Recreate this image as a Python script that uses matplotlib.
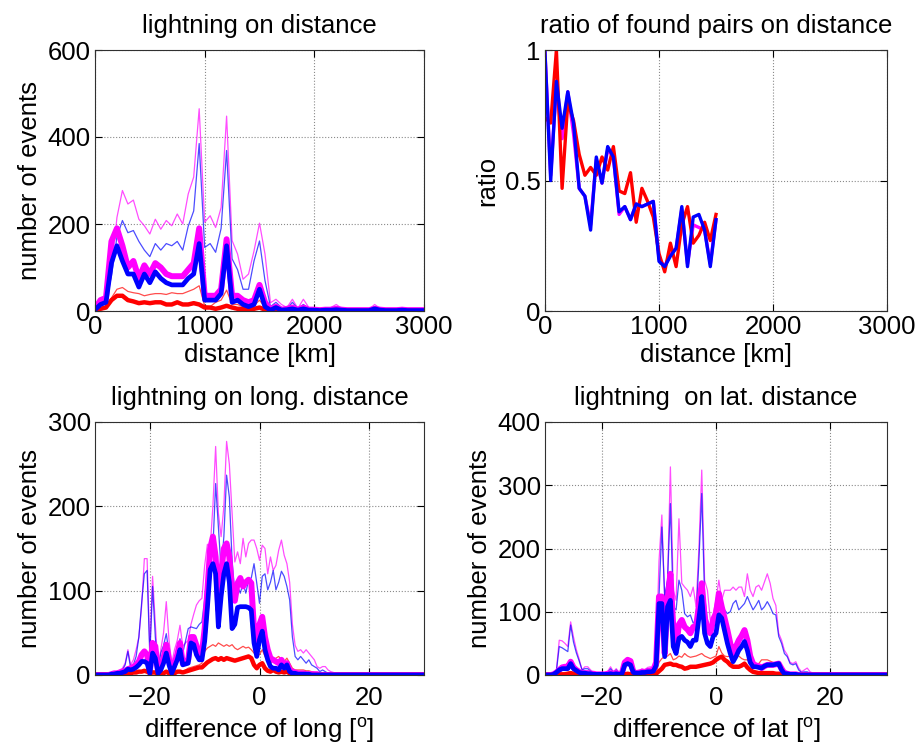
import numpy as np
import matplotlib
matplotlib.use('Agg')
import matplotlib.pyplot as plt

plt.rcParams['font.family'] = ['Liberation Sans', 'DejaVu Sans']
plt.rcParams['mathtext.fontset'] = 'custom'
plt.rcParams['mathtext.rm'] = 'Liberation Sans'
plt.rcParams['mathtext.it'] = 'Liberation Sans:italic'
FS = 18.5

# ---------------- data: lightning on distance (50 km bins, 0..3000 km) -------------
dist_km = np.arange(0, 3001, 50)
dist_thin_magenta = [8, 30, 35, 90, 215, 277, 246, 255, 211, 196,
                     177, 211, 188, 208, 196, 223, 200, 269, 308, 465,
                     204, 219, 192, 238, 448, 162, 131, 73, 85, 138,
                     202, 131, 19, 27, 15, 8, 27, 6, 27, 8,
                     8, 4, 6, 8, 15, 6, 4, 4, 4, 4,
                     4, 15, 6, 4, 4, 4, 8, 4, 4, 4,
                     4]
dist_thin_blue = [5, 20, 25, 80, 170, 208, 180, 185, 160, 140,
                  125, 155, 140, 155, 150, 160, 140, 195, 230, 385,
                  146, 155, 135, 190, 369, 120, 95, 50, 50, 115,
                  161, 70, 10, 20, 8, 5, 20, 5, 15, 5,
                  5, 3, 5, 5, 10, 5, 3, 3, 3, 3,
                  3, 10, 5, 3, 3, 3, 5, 3, 3, 3,
                  3]
dist_thin_red = [2, 8, 10, 30, 50, 54, 45, 42, 40, 35,
                 38, 40, 40, 38, 42, 40, 40, 45, 50, 58,
                 12, 10, 20, 25, 48, 15, 15, 10, 10, 12,
                 25, 8, 2, 3, 1, 1, 2, 1, 2, 1,
                 1, 0, 1, 1, 1, 1, 0, 0, 0, 0,
                 0, 1, 1, 0, 0, 0, 1, 0, 0, 0,
                 0]
dist_magenta = [5, 25, 30, 160, 190, 150, 100, 115, 75, 105,
                85, 110, 100, 85, 80, 80, 80, 95, 110, 190,
                35, 35, 35, 50, 165, 35, 35, 25, 20, 25,
                60, 20, 3, 10, 3, 5, 8, 3, 8, 3,
                3, 2, 3, 3, 5, 3, 2, 2, 2, 2,
                2, 5, 3, 2, 2, 2, 3, 2, 2, 2,
                2]
dist_blue = [3, 15, 20, 110, 150, 115, 85, 85, 55, 85,
             65, 90, 75, 65, 60, 60, 60, 75, 85, 155,
             25, 25, 25, 40, 150, 20, 25, 15, 10, 15,
             50, 10, 2, 8, 2, 3, 5, 2, 5, 2,
             2, 1, 2, 2, 3, 2, 1, 1, 1, 1,
             1, 5, 2, 1, 1, 1, 2, 1, 1, 1,
             1]
dist_red = [1, 5, 8, 25, 35, 35, 25, 22, 18, 20,
            18, 20, 20, 15, 15, 20, 15, 15, 18, 15,
            8, 8, 5, 8, 12, 8, 5, 5, 5, 5,
            8, 3, 1, 2, 1, 1, 1, 1, 1, 1,
            1, 0, 1, 0, 1, 0, 0, 0, 0, 0,
            0, 1, 0, 0, 0, 0, 0, 0, 0, 0,
            0]

# ---------------- data: ratio of found pairs (0..1500 km) ----------------
ratio_km = np.arange(0, 1501, 50)
ratio_magenta = [0.99, 0.52, 0.87, 0.66, 0.84, 0.68, 0.47, 0.44, 0.33, 0.58,
                 0.49, 0.62, 0.59, 0.37, 0.40, 0.35, 0.41, 0.40, 0.41, 0.42,
                 0.20, 0.17, 0.22, 0.24, 0.39, 0.18, 0.33, 0.32, 0.31, 0.18,
                 0.35]
ratio_red = [0.74, 0.72, 1.00, 0.47, 0.80, 0.73, 0.60, 0.52, 0.55, 0.52,
             0.59, 0.54, 0.63, 0.46, 0.45, 0.53, 0.34, 0.47, 0.42, 0.36,
             0.22, 0.15, 0.26, 0.17, 0.33, 0.40, 0.26, 0.29, 0.34, 0.27,
             0.37]
ratio_blue = [0.99, 0.50, 0.88, 0.70, 0.84, 0.72, 0.47, 0.44, 0.31, 0.59,
              0.49, 0.63, 0.59, 0.38, 0.40, 0.35, 0.41, 0.40, 0.41, 0.42,
              0.19, 0.17, 0.21, 0.24, 0.40, 0.17, 0.36, 0.37, 0.31, 0.17,
              0.35]

# ---------------- data: longitude difference (0.5 deg bins, -30..30) ----------------
deg = np.arange(-30, 30.01, 0.5)
long_thin_magenta = [0, 0, 0, 0, 0, 1, 2, 3, 4, 6,
                     8, 14, 30, 12, 18, 30, 45, 81, 138, 138,
                     30, 117, 61, 8, 30, 50, 87, 41, 14, 30,
                     41, 59, 34, 38, 41, 60, 72, 83, 88, 91,
                     130, 155, 150, 200, 271, 192, 164, 200, 277, 250,
                     192, 134, 146, 132, 162, 140, 156, 160, 160, 150,
                     136, 154, 150, 120, 140, 124, 130, 148, 160, 142,
                     132, 110, 60, 35, 28, 30, 26, 30, 26, 22,
                     18, 10, 8, 10, 10, 6, 4, 3, 2, 1,
                     0, 0, 0, 0, 0, 0, 0, 0, 0, 0,
                     0, 0, 0, 0, 0, 0, 0, 0, 0, 0,
                     0, 0, 0, 0, 0, 0, 0, 0, 0, 0,
                     0]
long_thin_blue = [0, 0, 0, 0, 0, 0, 1, 2, 3, 4,
                  6, 12, 28, 8, 12, 22, 45, 85, 120, 124,
                  22, 105, 45, 6, 26, 35, 49, 26, 8, 20,
                  28, 43, 26, 40, 55, 57, 56, 55, 60, 63,
                  90, 125, 136, 150, 227, 176, 124, 164, 237, 211,
                  136, 97, 105, 97, 109, 97, 113, 115, 132, 109,
                  85, 117, 120, 101, 110, 124, 101, 110, 123, 117,
                  105, 89, 45, 22, 18, 22, 18, 14, 18, 12,
                  10, 8, 4, 6, 4, 2, 1, 1, 0, 0,
                  0, 0, 0, 0, 0, 0, 0, 0, 0, 0,
                  0, 0, 0, 0, 0, 0, 0, 0, 0, 0,
                  0, 0, 0, 0, 0, 0, 0, 0, 0, 0,
                  0]
long_thin_red = [0, 0, 0, 0, 0, 0, 0, 0, 0, 1,
                 1, 1, 2, 2, 2, 3, 3, 3, 3, 3,
                 2, 5, 3, 1, 2, 3, 5, 3, 1, 3,
                 5, 5, 4, 6, 8, 9, 10, 11, 12, 14,
                 28, 32, 34, 36, 34, 38, 36, 34, 36, 34,
                 36, 32, 30, 32, 34, 32, 33, 30, 26, 24,
                 24, 30, 22, 16, 14, 18, 20, 22, 18, 16,
                 20, 14, 8, 6, 6, 6, 6, 5, 5, 4,
                 3, 2, 2, 1, 1, 1, 0, 0, 0, 0,
                 0, 0, 0, 0, 0, 0, 0, 0, 0, 0,
                 0, 0, 0, 0, 0, 0, 0, 0, 0, 0,
                 0, 0, 0, 0, 0, 0, 0, 0, 0, 0,
                 0]
long_magenta = [0, 0, 0, 0, 0, 0, 1, 2, 2, 3,
                4, 5, 7, 8, 10, 12, 16, 24, 28, 24,
                4, 38, 34, 4, 10, 20, 36, 18, 4, 14,
                24, 38, 14, 16, 18, 45, 45, 35, 22, 26,
                55, 100, 150, 164, 140, 77, 121, 150, 156, 140,
                100, 88, 109, 115, 105, 110, 113, 109, 53, 34,
                60, 69, 45, 30, 20, 18, 16, 14, 18, 12,
                14, 6, 4, 3, 2, 2, 2, 1, 1, 1,
                1, 1, 0, 0, 0, 0, 0, 0, 0, 0,
                0, 0, 0, 0, 0, 0, 0, 0, 0, 0,
                0, 0, 0, 0, 0, 0, 0, 0, 0, 0,
                0, 0, 0, 0, 0, 0, 0, 0, 0, 0,
                0]
long_blue = [0, 0, 0, 0, 0, 0, 1, 1, 2, 2,
             3, 4, 7, 6, 7, 9, 12, 16, 16, 14,
             2, 26, 20, 2, 6, 14, 26, 12, 2, 10,
             18, 30, 12, 13, 14, 38, 36, 24, 18, 18,
             40, 80, 125, 132, 120, 57, 93, 120, 132, 110,
             55, 60, 80, 81, 81, 81, 80, 77, 38, 22,
             42, 52, 30, 18, 10, 8, 8, 6, 12, 8,
             12, 4, 2, 2, 1, 1, 1, 1, 1, 0,
             0, 0, 0, 0, 0, 0, 0, 0, 0, 0,
             0, 0, 0, 0, 0, 0, 0, 0, 0, 0,
             0, 0, 0, 0, 0, 0, 0, 0, 0, 0,
             0, 0, 0, 0, 0, 0, 0, 0, 0, 0,
             0]
long_red = [0, 0, 0, 0, 0, 0, 0, 1, 1, 1,
            1, 1, 2, 2, 3, 3, 4, 4, 5, 4,
            2, 3, 3, 1, 2, 2, 4, 2, 1, 2,
            4, 4, 3, 4, 5, 6, 7, 8, 9, 9,
            12, 15, 17, 19, 20, 18, 20, 18, 20, 19,
            18, 17, 18, 19, 20, 21, 22, 20, 12, 8,
            12, 14, 8, 5, 4, 6, 4, 3, 4, 3,
            4, 2, 2, 1, 1, 1, 1, 1, 0, 0,
            0, 0, 0, 0, 0, 0, 0, 0, 0, 0,
            0, 0, 0, 0, 0, 0, 0, 0, 0, 0,
            0, 0, 0, 0, 0, 0, 0, 0, 0, 0,
            0, 0, 0, 0, 0, 0, 0, 0, 0, 0,
            0]

# ---------------- data: latitude difference (0.5 deg bins, -30..30) ----------------
lat_thin_magenta = [0, 0, 0, 1, 8, 55, 54, 50, 45, 84,
                    60, 40, 25, 8, 13, 13, 8, 4, 3, 2,
                    2, 3, 6, 13, 5, 10, 4, 8, 24, 26,
                    22, 8, 5, 6, 10, 8, 12, 13, 10, 30,
                    180, 253, 118, 150, 329, 134, 118, 247, 145, 139,
                    134, 124, 139, 108, 200, 324, 150, 134, 87, 97,
                    118, 150, 118, 134, 134, 134, 139, 134, 139, 139,
                    124, 160, 134, 124, 139, 142, 134, 147, 160, 145,
                    121, 110, 66, 55, 39, 32, 20, 18, 21, 11,
                    5, 8, 11, 5, 3, 0, 0, 0, 0, 0,
                    0, 0, 0, 0, 0, 0, 0, 0, 0, 0,
                    0, 0, 0, 0, 0, 0, 0, 0, 0, 0,
                    0]
lat_thin_blue = [0, 0, 0, 1, 6, 45, 43, 40, 37, 79,
                 52, 35, 22, 8, 10, 10, 6, 3, 2, 2,
                 2, 2, 4, 10, 4, 8, 3, 6, 22, 24,
                 20, 6, 4, 5, 8, 6, 10, 10, 8, 25,
                 124, 234, 124, 150, 271, 108, 103, 150, 134, 97,
                 92, 95, 82, 87, 180, 287, 124, 87, 71, 76,
                 87, 108, 92, 103, 97, 100, 113, 118, 103, 108,
                 113, 124, 113, 103, 110, 118, 103, 108, 116, 108,
                 97, 95, 61, 50, 34, 29, 18, 16, 18, 8,
                 4, 5, 5, 3, 1, 0, 0, 0, 0, 0,
                 0, 0, 0, 0, 0, 0, 0, 0, 0, 0,
                 0, 0, 0, 0, 0, 0, 0, 0, 0, 0,
                 0]
lat_thin_red = [0, 0, 0, 0, 1, 3, 3, 4, 4, 5,
                3, 3, 2, 1, 1, 1, 1, 0, 0, 0,
                0, 0, 0, 1, 0, 1, 0, 1, 2, 3,
                2, 1, 1, 1, 1, 1, 1, 1, 2, 3,
                20, 26, 29, 30, 34, 24, 26, 30, 28, 34,
                30, 28, 29, 30, 32, 34, 30, 28, 26, 28,
                30, 45, 35, 30, 29, 30, 32, 34, 30, 26,
                24, 24, 18, 13, 12, 18, 24, 24, 24, 22,
                20, 18, 14, 10, 5, 3, 2, 1, 1, 0,
                0, 0, 0, 0, 0, 0, 0, 0, 0, 0,
                0, 0, 0, 0, 0, 0, 0, 0, 0, 0,
                0, 0, 0, 0, 0, 0, 0, 0, 0, 0,
                0]
lat_magenta = [0, 0, 0, 1, 4, 8, 12, 13, 13, 21,
               12, 8, 5, 3, 3, 3, 2, 2, 1, 1,
               1, 1, 2, 3, 2, 3, 1, 3, 20, 24,
               22, 5, 3, 4, 5, 5, 6, 7, 8, 20,
               124, 124, 34, 118, 160, 76, 45, 80, 87, 76,
               72, 66, 76, 76, 110, 145, 92, 71, 66, 87,
               97, 129, 108, 90, 71, 50, 34, 45, 55, 62,
               71, 55, 30, 18, 15, 14, 11, 14, 16, 16,
               16, 17, 18, 10, 3, 2, 1, 1, 1, 0,
               0, 0, 0, 0, 0, 0, 0, 0, 0, 0,
               0, 0, 0, 0, 0, 0, 0, 0, 0, 0,
               0, 0, 0, 0, 0, 0, 0, 0, 0, 0,
               0]
lat_blue = [0, 0, 0, 1, 4, 8, 10, 10, 10, 18,
            10, 7, 4, 3, 3, 2, 2, 1, 1, 1,
            1, 1, 1, 2, 1, 2, 1, 2, 16, 18,
            16, 4, 3, 3, 4, 4, 5, 5, 6, 15,
            113, 113, 29, 108, 118, 45, 34, 58, 61, 55,
            52, 45, 55, 55, 90, 124, 66, 50, 45, 61,
            66, 95, 90, 70, 50, 34, 21, 29, 39, 45,
            53, 39, 20, 13, 13, 12, 11, 14, 16, 16,
            16, 17, 18, 8, 2, 2, 1, 1, 1, 0,
            0, 0, 0, 0, 0, 0, 0, 0, 0, 0,
            0, 0, 0, 0, 0, 0, 0, 0, 0, 0,
            0, 0, 0, 0, 0, 0, 0, 0, 0, 0,
            0]
lat_red = [0, 0, 0, 0, 0, 1, 1, 1, 2, 3,
           2, 1, 1, 0, 0, 0, 0, 0, 0, 0,
           0, 0, 0, 0, 0, 0, 0, 0, 1, 2,
           1, 0, 0, 0, 0, 0, 0, 1, 1, 2,
           6, 10, 16, 17, 18, 16, 16, 14, 13, 10,
           11, 13, 13, 13, 14, 15, 16, 17, 18, 20,
           24, 27, 29, 24, 21, 16, 13, 13, 13, 15,
           18, 12, 8, 5, 4, 3, 3, 3, 3, 3,
           3, 2, 2, 1, 1, 0, 0, 0, 0, 0,
           0, 0, 0, 0, 0, 0, 0, 0, 0, 0,
           0, 0, 0, 0, 0, 0, 0, 0, 0, 0,
           0, 0, 0, 0, 0, 0, 0, 0, 0, 0,
           0]

# ---------------- figure ----------------
W, H = 919, 751
fig = plt.figure(figsize=(W / 100, H / 100), dpi=100)


def axes_px(x0, y0, x1, y1):
    return fig.add_axes([x0 / W, 1 - y1 / H, (x1 - x0) / W, (y1 - y0) / H])


def style(ax, xpad=3):
    ax.grid(True, linestyle=':', color='#8a8a8a', linewidth=0.8)
    ax.tick_params(direction='in', top=True, right=True, length=5, width=0.8,
                   labelsize=FS, pad=3, colors='black')
    ax.tick_params(axis='x', pad=xpad)
    for sp in ax.spines.values():
        sp.set_linewidth(0.8)
        sp.set_color('#303030')


THIN = dict(lw=0.9, alpha=0.7)


def histo(ax, x, tm, tb, tr, km, kr, kb):
    ax.plot(x, tm, color='#ff00ff', **THIN)
    ax.plot(x, tb, color='#0000ff', **THIN)
    ax.plot(x, tr, color='#ff0000', **THIN)
    ax.plot(x, km, color='#ff00ff', lw=4.3, solid_joinstyle='round')
    ax.plot(x, kr, color='#ff0000', lw=3.2, solid_joinstyle='round')
    ax.plot(x, kb, color='#0000ff', lw=3.4, solid_joinstyle='round')


ax1 = axes_px(95, 50, 424, 311)
ax2 = axes_px(545, 50, 887, 311)
ax3 = axes_px(95, 422, 424, 675)
ax4 = axes_px(545, 422, 887, 675)

# top-left
histo(ax1, dist_km, dist_thin_magenta, dist_thin_blue, dist_thin_red,
      dist_magenta, dist_red, dist_blue)
ax1.set_xlim(0, 3000)
ax1.set_ylim(0, 600)
ax1.set_xticks([0, 1000, 2000, 3000])
ax1.set_yticks([0, 200, 400, 600])
ax1.set_title('lightning on distance', fontsize=FS, pad=12)
ax1.set_xlabel('distance [km]', fontsize=FS, labelpad=3)
ax1.set_ylabel('number of events', fontsize=FS)
style(ax1)

# top-right
ax2.plot(ratio_km, ratio_magenta, color='#ff00ff', lw=2.4)
ax2.plot(ratio_km, ratio_red, color='#ff0000', lw=2.4)
ax2.plot(ratio_km, ratio_blue, color='#0000ff', lw=2.4)
ax2.set_xlim(0, 3000)
ax2.set_ylim(0, 1)
ax2.set_xticks([0, 1000, 2000, 3000])
ax2.set_yticks([0, 0.5, 1])
ax2.set_yticklabels(['0', '0.5', '1'])
ax2.set_title('ratio of found pairs on distance', fontsize=FS, pad=12)
ax2.set_xlabel('distance [km]', fontsize=FS, labelpad=3)
ax2.set_ylabel('ratio', fontsize=FS)
style(ax2)

# bottom-left
histo(ax3, deg, long_thin_magenta, long_thin_blue, long_thin_red,
      long_magenta, long_red, long_blue)
ax3.set_xlim(-30, 30)
ax3.set_ylim(0, 300)
ax3.set_xticks([-20, 0, 20])
ax3.set_yticks([0, 100, 200, 300])
ax3.set_title('lightning on long. distance', fontsize=FS, pad=12)
ax3.set_xlabel(r'difference of long [$^{\mathrm{o}}$]', fontsize=FS, labelpad=4)
ax3.set_ylabel('number of events', fontsize=FS)
style(ax3, xpad=8)

# bottom-right
histo(ax4, deg, lat_thin_magenta, lat_thin_blue, lat_thin_red,
      lat_magenta, lat_red, lat_blue)
ax4.set_xlim(-30, 30)
ax4.set_ylim(0, 400)
ax4.set_xticks([-20, 0, 20])
ax4.set_yticks([0, 100, 200, 300, 400])
ax4.set_title('lightning  on lat. distance', fontsize=FS, pad=12)
ax4.set_xlabel(r'difference of lat [$^{\mathrm{o}}$]', fontsize=FS, labelpad=4)
ax4.set_ylabel('number of events', fontsize=FS)
style(ax4, xpad=8)

fig.savefig('out.png', dpi=100)
